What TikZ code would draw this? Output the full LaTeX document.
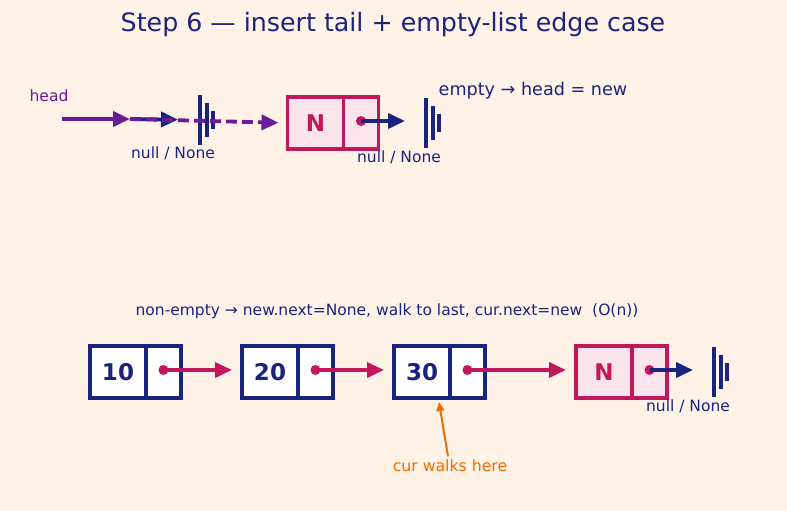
\documentclass[tikz,border=0pt]{standalone}
\usepackage{fontspec}
\setmainfont{DejaVu Sans}
\usetikzlibrary{arrows.meta}
\usetikzlibrary{positioning}
\definecolor{navy}{HTML}{1A237E}
\definecolor{crimson}{HTML}{C2185B}
\definecolor{plum}{HTML}{6A1B9A}
\definecolor{amber}{HTML}{EF6C00}
\definecolor{pinkfill}{HTML}{FCE4EC}
\definecolor{paper}{HTML}{FFF3E8}
\tikzset{
  cell/.style={draw=navy, line width=3.5pt, fill=white, minimum height=52pt,
    outer sep=0pt, inner sep=0pt, text=navy,
    font=\fontsize{23}{27}\selectfont\bfseries},
  valcell/.style={cell, minimum width=56pt},
  ptrcell/.style={cell, minimum width=35pt},
  newcell/.style={draw=crimson, fill=pinkfill, text=crimson},
  dot/.style={circle, fill=crimson, inner sep=0pt, minimum size=10pt},
  tip/.style={-{Triangle[length=17pt,width=15pt]}},
  link/.style={tip, crimson, line width=3.8pt},
  nulllink/.style={tip, navy, line width=3.8pt},
  headlink/.style={tip, plum, line width=3.8pt},
  nulltext/.style={text=navy, font=\fontsize{15.5}{18}\selectfont},
  nullbars/.pic={
    \draw[navy, line width=4pt] (0,-25) -- (0,25);
    \draw[navy, line width=4pt] (7,-17) -- (7,17);
    \draw[navy, line width=4pt] (13,-9) -- (13,9);
  },
}
\begin{document}
\begin{tikzpicture}[x=1pt, y=-1pt]
    \fill[paper] (0,0) rectangle (787,511);
    \useasboundingbox (0,0) rectangle (787,511);

    \node[text=navy, font=\fontsize{25.3}{30}\selectfont] (title) at (393,25)
      {Step 6 — insert tail + empty-list edge case};

    % empty list
    \node[text=plum, font=\fontsize{15.6}{18}\selectfont] (hd) at (49,96) {head};
    \coordinate (hs) at (62,119);
    \coordinate (hp) at (130,119);
    \coordinate (null1) at (200,120);
    \pic at (null1) {nullbars};
    \node[nulltext] (nl1) at (173,153) {null / None};

    \node[valcell, newcell] (vT) at (315.5,123) {N};
    \node[ptrcell, newcell, right=0pt of vT] (pT) {};
    \node[dot] (dT) at ([yshift=2pt]pT.center) {};
    \coordinate (null2) at (426,123);
    \pic at (null2) {nullbars};
    \node[nulltext] (nl2) at (399,157) {null / None};
    \node[text=navy, font=\fontsize{17.6}{21}\selectfont] (emp) at (533,91)
      {empty → head = new};

    \draw[nulllink, shorten >=22pt] (hp) -- (null1);
    \draw[headlink, dash pattern=on 11pt off 5pt, shorten >=9pt] (hp) -- (vT.west);
    \draw[headlink] (hs) -- (hp);
    \draw[nulllink, shorten >=21pt] (dT.center) -- (null2 |- dT);

    % non-empty list
    \node[text=navy, font=\fontsize{15.5}{18}\selectfont] (nonemp) at (387,311)
      {non-empty → new.next=None, walk to last, cur.next=new\ \ (O(n))};

    \node[valcell] (v10) at (118,372) {10};
    \node[ptrcell, right=0pt of v10] (p10) {};
    \node[valcell, right=61pt of p10] (v20) {20};
    \node[ptrcell, right=0pt of v20] (p20) {};
    \node[valcell, right=61pt of p20] (v30) {30};
    \node[ptrcell, right=0pt of v30] (p30) {};
    \node[valcell, newcell, right=91pt of p30] (vN) {N};
    \node[ptrcell, newcell, right=0pt of vN] (pN) {};

    \node[dot] (d10) at ([yshift=2pt]p10.center) {};
    \node[dot] (d20) at ([yshift=2pt]p20.center) {};
    \node[dot] (d30) at ([yshift=2pt]p30.center) {};
    \node[dot] (dN) at ([yshift=2pt]pN.center) {};

    \draw[link, shorten >=10pt] (d10.center) -- (v20.west |- d10);
    \draw[link, shorten >=10pt] (d20.center) -- (v30.west |- d20);
    \draw[link, shorten >=10pt] (d30.center) -- (vN.west |- d30);

    \coordinate (null3) at (714,372);
    \pic at (null3) {nullbars};
    \node[nulltext] (nl3) at (688,406) {null / None};
    \draw[nulllink, shorten >=21pt] (dN.center) -- (null3 |- dN);

    \node[text=amber, font=\fontsize{15.7}{18}\selectfont] (cw) at (450,466) {cur walks here};
    \draw[amber, line width=2pt, -{Triangle[length=9pt,width=8pt]}]
      ([xshift=-2pt]cw.north) -- ([xshift=17pt, yshift=-4pt]v30.south);
  \end{tikzpicture}
\end{document}
